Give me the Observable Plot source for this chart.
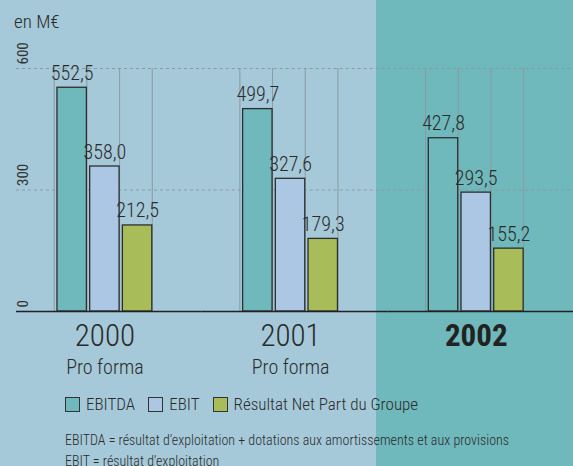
<!DOCTYPE html>
<html>
<head>
<meta charset="utf-8">
<script src="https://cdn.jsdelivr.net/npm/d3@7"></script>
<script src="https://cdn.jsdelivr.net/npm/@observablehq/plot@0.6"></script>
<style>
  html, body { margin: 0; padding: 0; }
  body {
    width: 573px; height: 466px; overflow: hidden; position: relative;
    font-family: "Roboto Condensed", "Open Sans", sans-serif;
    font-weight: 300;
    color: #2b2b2b;
    background: linear-gradient(to right, #a5c9d9 0px, #a5c9d9 376px, #6fb8bb 376px, #6fb8bb 573px);
  }
  #unit { position: absolute; left: 14px; top: 11px; font-size: 19px; line-height: 22px; white-space: nowrap; }
  #chart { position: absolute; left: 0; top: 0; }
  #legend { position: absolute; left: 65px; top: 397px; display: flex; align-items: center; font-size: 17px; line-height: 15px; white-space: nowrap; }
  .item { display: flex; align-items: center; margin-right: 13px; }
  .sw { width: 13px; height: 13px; border: 1.5px solid #333; margin-right: 6px; box-sizing: content-box; }
  #notes { position: absolute; left: 65px; top: 430px; font-size: 14px; line-height: 21px; white-space: nowrap; }
</style>
</head>
<body>
<div id="chart"></div>
<div id="unit">en M€</div>
<div id="legend"></div>
<div id="notes"></div>
<script>
// ---- data ----
const years = ["2000", "2001", "2002"];
const yearNotes = ["Pro forma", "Pro forma", ""];
const boldYear = "2002";
const series = ["EBITDA", "EBIT", "Résultat Net Part du Groupe"];
const ebitda = [552.5, 499.7, 427.8];
const ebit = [358.0, 327.6, 293.5];
const resultat = [212.5, 179.3, 155.2];
const yTicks = [0, 300, 600];
const gridTicks = [300, 600];
const colors = ["#6fb8bb", "#abc7e4", "#a8bc5a"];
const notes = [
  "EBITDA = résultat d’exploitation + dotations aux amortissements et aux provisions",
  "EBIT = résultat d'exploitation"
];

const valuesBySeries = [ebitda, ebit, resultat];
const data = years.flatMap((y, i) => series.map((s, j) => ({year: y, series: s, value: valuesBySeries[j][i]})));
const fmt = v => d3.format(".1f")(v).replace(".", ",");

const FONT = '"Roboto Condensed", "Open Sans", sans-serif';
const common = {
  width: 573, height: 385,
  marginLeft: 16, marginRight: 0, marginTop: 68, marginBottom: 74,
  fx: {domain: years, paddingInner: 0, paddingOuter: 0, axis: null, round: false},
  x: {domain: series, paddingInner: 0.1, paddingOuter: 1.389, align: 0.451, axis: null, round: false},
  y: {domain: [0, 600], axis: null},
  color: {domain: series, range: colors},
  style: {background: "transparent", fontFamily: FONT, fontWeight: 300, color: "#2b2b2b", overflow: "visible"}
};

// first pass: read the band geometry of the inner x scale
const probe = Plot.plot({...common, marks: [Plot.barY(data, {fx: "year", x: "series", y: "value"})]});
const xs = probe.scale("x");
const bw = xs.bandwidth, gap = xs.step - xs.bandwidth;

const gridColor = "#8a9aa4";
const plot = Plot.plot({
  ...common,
  marks: [
    Plot.ruleY(gridTicks, {stroke: gridColor, strokeWidth: 1, strokeDasharray: "3,3"}),
    Plot.ruleX(series, {x: d => d, y1: 0, y2: 600, dx: bw / 2, stroke: gridColor, strokeWidth: 1}),
    Plot.ruleX(series.slice(0, 1), {x: d => d, y1: 0, y2: 600, dx: -(bw / 2 + gap), stroke: gridColor, strokeWidth: 1}),
    Plot.barY(data, {fx: "year", x: "series", y: "value", fill: "series", stroke: "#2e2e2e", strokeWidth: 1.3}),
    Plot.ruleY([0], {stroke: "#222", strokeWidth: 1.5}),
    Plot.text(data, {fx: "year", x: "series", y: "value", text: d => fmt(d.value), dy: -8, lineAnchor: "bottom",
      fontSize: 20, fontWeight: 300, fill: "#2b2b2b"}),
    Plot.text(yTicks, {fx: () => years[0], y: d => d, text: d => String(d), frameAnchor: "left", dx: 6.5, dy: -4,
      rotate: -90, textAnchor: "start", lineAnchor: "middle", fontSize: 15, fontWeight: 400, fill: "#333"}),
    Plot.text(years.filter(y => y !== boldYear), {fx: d => d, x: () => series[1], text: d => d, frameAnchor: "bottom",
      dy: 34.3, lineAnchor: "bottom", fontSize: 31, fontWeight: 300, fill: "#2b2b2b"}),
    Plot.text(years.filter(y => y === boldYear), {fx: d => d, x: () => series[1], text: d => d, frameAnchor: "bottom",
      dy: 34.3, lineAnchor: "bottom", fontSize: 31, fontWeight: "bold", fill: "#222"}),
    Plot.text(years.map((y, i) => ({year: y, note: yearNotes[i]})).filter(d => d.note),
      {fx: "year", x: () => series[1], text: "note", frameAnchor: "bottom", dy: 62.3, lineAnchor: "bottom",
      fontSize: 20, fontWeight: 300, fill: "#2b2b2b"})
  ]
});
document.getElementById("chart").append(plot);

// legend
const legend = document.getElementById("legend");
series.forEach((s, i) => {
  const item = document.createElement("div");
  item.className = "item";
  const sw = document.createElement("span");
  sw.className = "sw";
  sw.style.background = colors[i];
  const t = document.createElement("span");
  t.textContent = s;
  item.append(sw, t);
  legend.append(item);
});
const notesDiv = document.getElementById("notes");
notes.forEach(n => { const d = document.createElement("div"); d.textContent = n; notesDiv.append(d); });
</script>
</body>
</html>
